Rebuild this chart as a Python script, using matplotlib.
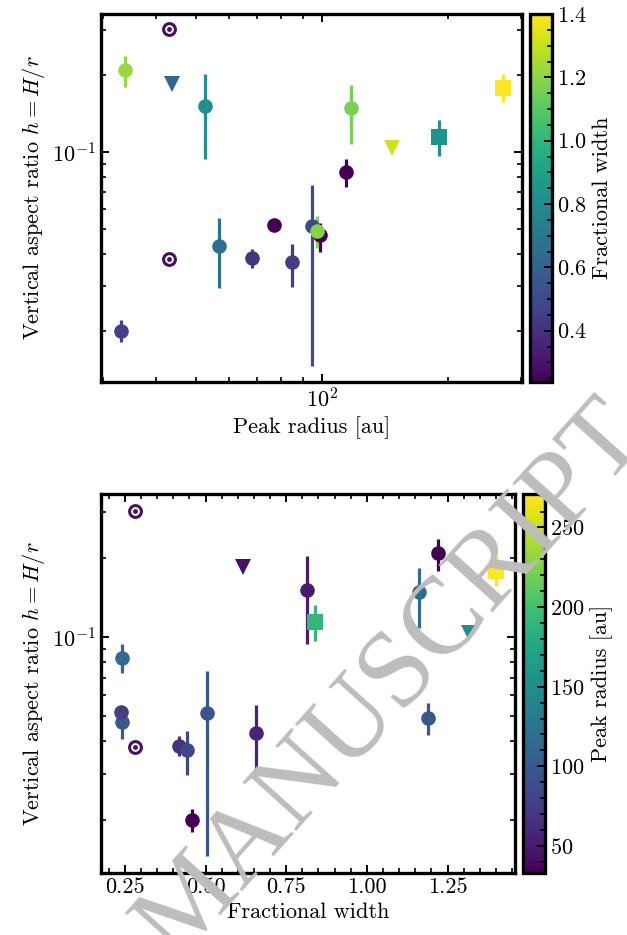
import numpy as np
import matplotlib
matplotlib.use("Agg")
import matplotlib.pyplot as plt
from matplotlib import ticker
from matplotlib.colors import Normalize
from matplotlib.cm import ScalarMappable

plt.rcParams.update({
    "font.family": "serif",
    "font.serif": ["cmr10", "DejaVu Serif"],
    "mathtext.fontset": "cm",
    "axes.formatter.use_mathtext": True,
    "font.size": 16,
    "axes.linewidth": 2.4,
    "xtick.direction": "in",
    "ytick.direction": "in",
    "xtick.top": True,
    "ytick.right": True,
    "xtick.major.size": 6,
    "ytick.major.size": 6,
    "xtick.minor.size": 3.5,
    "ytick.minor.size": 3.5,
    "xtick.major.width": 1.4,
    "ytick.major.width": 1.4,
    "xtick.minor.width": 1.2,
    "ytick.minor.width": 1.2,
})

# ---- data ----
peak_radius = [33.8, 43.0, 43.8, 52.5, 117.3, 271.0, 147.0, 190.6, 114.0,
               33.0, 43.0, 56.7, 68.0, 84.8, 94.6, 99.0, 76.8, 97.3]
frac_width = [1.220, 0.281, 0.616, 0.814, 1.161, 1.400, 1.316, 0.839, 0.241,
              0.458, 0.281, 0.656, 0.418, 0.443, 0.503, 0.241, 0.238, 1.189]
aspect = [0.209, 0.302, 0.185, 0.151, 0.1486, 0.178, 0.104, 0.1144, 0.0835,
          0.0200, 0.0382, 0.0430, 0.0385, 0.0372, 0.0514, 0.0474, 0.0519, 0.0492]
aspect_hi = [0.237, np.nan, np.nan, 0.203, 0.183, 0.203, np.nan, 0.133, 0.094,
             0.0221, np.nan, 0.0553, 0.0418, 0.0437, 0.0743, 0.053, np.nan, 0.0560]
aspect_lo = [0.179, np.nan, np.nan, 0.094, 0.108, 0.157, np.nan, 0.0965, 0.073,
             0.0180, np.nan, 0.0294, 0.0352, 0.0297, 0.0146, 0.0407, np.nan, 0.0422]
kind = ["o", "t", "v", "o", "o", "s", "v", "s", "o",
        "o", "t", "o", "o", "o", "o", "o", "o", "o"]

W, H = 627, 935
fig = plt.figure(figsize=(W / 100, H / 100), dpi=100)


def frac(x0, y0, x1, y1):
    return [x0 / W, 1 - y1 / H, (x1 - x0) / W, (y1 - y0) / H]


def draw(ax, xs, cvals, cmap_norm):
    cmap = plt.get_cmap("viridis")
    for i in range(len(xs)):
        c = cmap(cmap_norm(cvals[i]))
        x, y = xs[i], aspect[i]
        k = kind[i]
        if k == "t":
            ax.plot([x], [y], "o", ms=8.5, mfc="white", mec=c, mew=2.2, zorder=3)
            ax.plot([x], [y], "o", ms=3.5, color=c, mew=0, zorder=3)
            continue
        if not np.isnan(aspect_hi[i]):
            yerr = [[y - aspect_lo[i]], [aspect_hi[i] - y]]
        else:
            yerr = None
        ms = {"o": 10.5, "s": 11.5, "v": 12}[k]
        ax.errorbar([x], [y], yerr=yerr, fmt=k, color=c, ms=ms, mew=0,
                    elinewidth=2.3, capsize=0, zorder=3)


# ---- top panel ----
ax1 = fig.add_axes(frac(101, 14, 522, 382))
norm1 = Normalize(min(frac_width), max(frac_width))
draw(ax1, peak_radius, frac_width, norm1)
ax1.set_xscale("log")
ax1.set_yscale("log")
ax1.set_xlim(29.6, 301)
ax1.set_ylim(0.0126, 0.347)
ax1.xaxis.set_minor_formatter(ticker.NullFormatter())
ax1.yaxis.set_minor_formatter(ticker.NullFormatter())
ax1.set_xlabel("Peak radius [au]")
ax1.set_ylabel("Vertical aspect ratio $h = H/r$")

cax1 = fig.add_axes(frac(530, 14, 552, 382))
cb1 = fig.colorbar(ScalarMappable(norm=norm1, cmap="viridis"), cax=cax1)
cb1.set_ticks([0.4, 0.6, 0.8, 1.0, 1.2, 1.4])
cb1.ax.yaxis.set_minor_locator(ticker.MultipleLocator(0.05))
cb1.ax.tick_params(which="both", direction="in")
cb1.outline.set_linewidth(2.4)
cb1.set_label("Fractional width")

# ---- bottom panel ----
ax2 = fig.add_axes(frac(101, 494, 515, 873))
norm2 = Normalize(min(peak_radius), max(peak_radius))
draw(ax2, frac_width, peak_radius, norm2)
ax2.set_yscale("log")
ax2.set_xlim(0.176, 1.459)
ax2.set_ylim(0.0126, 0.351)
ax2.xaxis.set_major_locator(ticker.MultipleLocator(0.25))
ax2.xaxis.set_major_formatter(ticker.FormatStrFormatter("%.2f"))
ax2.xaxis.set_minor_locator(ticker.MultipleLocator(0.05))
ax2.yaxis.set_minor_formatter(ticker.NullFormatter())
ax2.set_xlabel("Fractional width")
ax2.set_ylabel("Vertical aspect ratio $h = H/r$")

cax2 = fig.add_axes(frac(523, 494, 545, 873))
cb2 = fig.colorbar(ScalarMappable(norm=norm2, cmap="viridis"), cax=cax2)
cb2.set_ticks([50, 100, 150, 200, 250])
cb2.ax.yaxis.set_minor_locator(ticker.MultipleLocator(10))
cb2.ax.tick_params(which="both", direction="in")
cb2.outline.set_linewidth(2.4)
cb2.set_label("Peak radius [au]")

# watermark
fig.text(0.626, 0.272, "MANUSCRIPT", rotation=48, fontsize=79, color="#bdbdbd",
         family="Liberation Serif", ha="center", va="center",
         rotation_mode="anchor", zorder=10)

fig.savefig("out.png", dpi=100)
